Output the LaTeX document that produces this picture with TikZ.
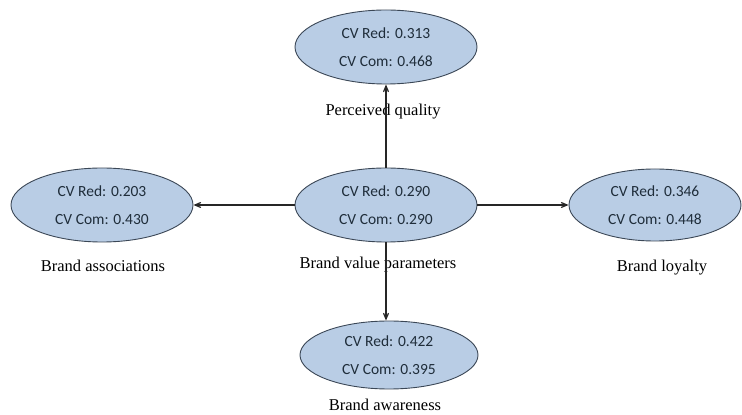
\documentclass[tikz,border=0pt]{standalone}
\usepackage{xcolor}
\usepackage{tikz}
\usepackage{fontspec}
\usetikzlibrary{arrows}
\usetikzlibrary{shapes.geometric}
\newfontfamily\cvfont{Carlito}
\newfontfamily\capfont{Liberation Serif}
\definecolor{cvfill}{HTML}{B9CDE5}
\definecolor{cvline}{HTML}{3B4756}
\definecolor{cvtext}{HTML}{1F2D3A}
\tikzset{
    cvnode/.style={ellipse,draw=cvline,fill=cvfill,line width=0.9pt,inner sep=0pt,
        minimum width=182pt,minimum height=74pt,align=center,text=cvtext,
        font=\cvfont\fontsize{15.5}{28}\selectfont},
    capnode/.style={font=\capfont\fontsize{16.5}{18}\selectfont,text=black}
}

\begin{document}
\begin{tikzpicture}[x=1pt,y=1pt]
\useasboundingbox (0,0) rectangle (742,415);
% ellipses
\node[cvnode] (bvp) at (386,210) {CV Red: 0.290\\CV Com: 0.290};
\node[cvnode] (pq) at (386,368) {CV Red: 0.313\\CV Com: 0.468};
\node[cvnode] (ba) at (102,210) {CV Red: 0.203\\CV Com: 0.430};
\node[cvnode,minimum width=172pt,minimum height=72pt] (bl) at (655,210) {CV Red: 0.346\\CV Com: 0.448};
\node[cvnode,minimum width=178pt,minimum height=68pt] (baw) at (389,60) {CV Red: 0.422\\CV Com: 0.395};
% captions
\node[capnode] (pqcap) at (383,303) {Perceived quality};
\node[capnode] (bvpcap) at (378,150) {Brand value parameters};
\node[capnode] (bacap) at (103,149) {Brand associations};
\node[capnode] (blcap) at (662,147) {Brand loyalty};
\node[capnode] (bawcap) at (385,10) {Brand awareness};
% arrows
\foreach \a/\b in {north/pq.south,west/ba.east,east/bl.west}
{
    \draw[->,>=angle 45,line width=1.2pt,black!85] (bvp.\a) -- (\b);
}
\draw[->,>=angle 45,line width=1.2pt,black!85] (bvp.south) -- (bvp.south |- baw.north);
\end{tikzpicture}
\end{document}
